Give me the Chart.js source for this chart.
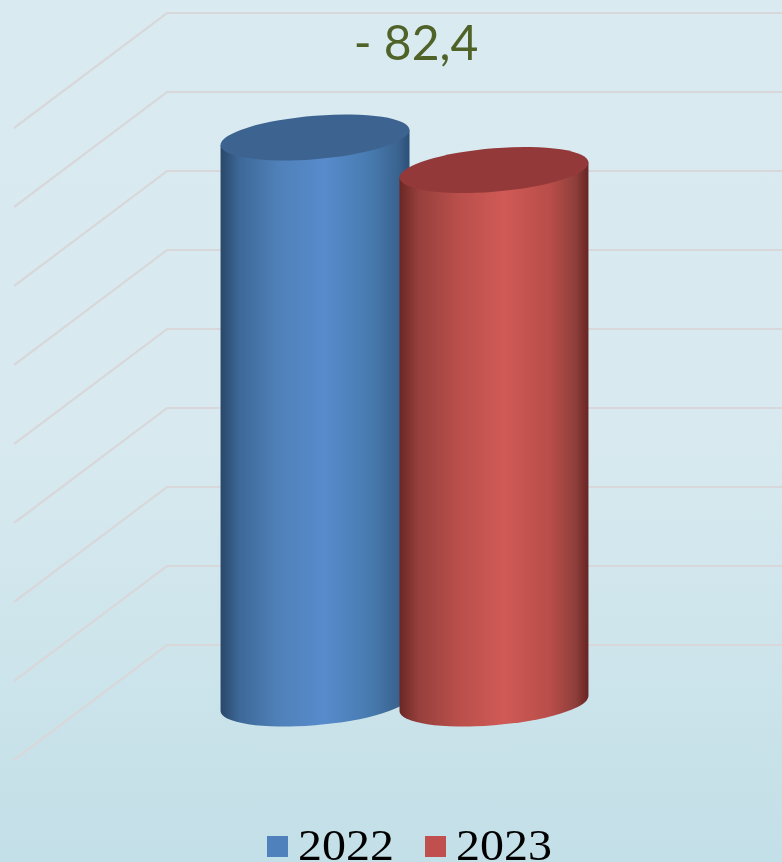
<!DOCTYPE html>
<html>
<head>
<meta charset="utf-8">
<title>2022 - 2023</title>
<script src="https://cdn.jsdelivr.net/npm/chart.js@4/dist/chart.umd.min.js"></script>
<style>
  html, body { margin: 0; padding: 0; }
  body { width: 782px; height: 862px; overflow: hidden; background: linear-gradient(#d9eaf1 0%, #d8eaf0 50%, #c3dfe7 100%); }
  canvas { display: block; }
</style>
</head>
<body>
<canvas id="display_graph" width="782" height="862"></canvas>
<script>
const categories = [""];
const seriesNames = ["2022", "2023"];
const seriesValues = [1433, 1350.6];
const seriesColors = ["#4f81bd", "#c0504d"];
const titleText = "- 82,4";

// side shading and top cap of each cylinder
const sideStops = [
  [[0, "#2a4769"], [0.1, "#3d6898"], [0.3, "#4f80b8"], [0.55, "#578bcc"], [0.8, "#467aae"], [0.94, "#3a638f"], [1, "#2c5078"]],
  [[0, "#6a2725"], [0.1, "#963f3c"], [0.3, "#b84e4a"], [0.55, "#d05a56"], [0.8, "#b84d49"], [0.93, "#8f3f3b"], [1, "#672523"]]
];
const capColors = ["#3d6491", "#93393a"];

// Grid is drawn as a 3D floor/wall corner, bars stand half way in depth
const gridPlugin = {
  id: "grid3d",
  beforeDatasetsDraw(chart) {
    const ctx = chart.ctx;
    const y = chart.scales.y;
    ctx.save();
    ctx.strokeStyle = "#d8d8da";
    ctx.lineWidth = 2.2;
    y.ticks.forEach((tick) => {
      const py = y.getPixelForValue(tick.value);
      ctx.beginPath();
      ctx.moveTo(14, py + 56.5);
      ctx.lineTo(167, py - 58.5);
      ctx.lineTo(chart.chartArea.right, py - 58.5);
      ctx.stroke();
    });
    ctx.restore();
  }
};

const cylinderPlugin = {
  id: "cylinders",
  afterDatasetsDraw(chart) {
    const ctx = chart.ctx;
    chart.data.datasets.forEach((dataset, i) => {
      const bar = chart.getDatasetMeta(i).data[0];
      const rw = bar.width / 2;
      const h = bar.base - bar.y;
      const ry = 21.7;
      const skew = 7.5 / rw;

      ctx.save();
      ctx.transform(1, -skew, 0, 1, bar.x, bar.y);

      const side = ctx.createLinearGradient(-rw, 0, rw, 0);
      sideStops[i].forEach((stop) => side.addColorStop(stop[0], stop[1]));
      ctx.fillStyle = side;
      ctx.beginPath();
      ctx.moveTo(-rw, 0);
      ctx.lineTo(-rw, h);
      ctx.ellipse(0, h, rw, ry, 0, Math.PI, 0, true);
      ctx.lineTo(rw, 0);
      ctx.closePath();
      ctx.fill();

      ctx.fillStyle = capColors[i];
      ctx.beginPath();
      ctx.ellipse(0, 0, rw, ry, 0, 0, Math.PI * 2);
      ctx.fill();
      ctx.restore();
    });
  }
};

// title and legend sit at fixed spots that the built-in boxes can't reach
const labelsPlugin = {
  id: "labels",
  afterDraw(chart) {
    const ctx = chart.ctx;
    ctx.save();
    ctx.fillStyle = "#4f6228";
    ctx.font = "48px Lato";
    ctx.textAlign = "center";
    ctx.textBaseline = "alphabetic";
    ctx.fillText(titleText, 416, 60);

    ctx.textAlign = "left";
    ctx.font = "44px 'Liberation Serif'";
    chart.data.datasets.forEach((dataset, i) => {
      const x = 267 + i * 158;
      ctx.fillStyle = seriesColors[i];
      ctx.fillRect(x, 836, 21, 21);
      ctx.fillStyle = "#000000";
      ctx.save();
      ctx.translate(x + 31, 860);
      ctx.scale(1.09, 1);
      ctx.fillText(dataset.label, 0, 0);
      ctx.restore();
    });
    ctx.restore();
  }
};

const graph = document.getElementById("display_graph");

const scatter = new Chart(graph.getContext("2d"), {
  type: "bar",
  data: {
    labels: categories,
    datasets: seriesNames.map((name, i) => ({
      label: name,
      data: [seriesValues[i]],
      backgroundColor: "transparent",
      borderWidth: 0
    }))
  },
  options: {
    responsive: false,
    animation: false,
    events: [],
    layout: { padding: { left: 27, right: 0, top: 71.5, bottom: 158.5 } },
    datasets: { bar: { categoryPercentage: 0.474, barPercentage: 1.056 } },
    scales: {
      x: { display: false },
      y: { display: false, min: 0, max: 1600, ticks: { stepSize: 200 } }
    },
    plugins: {
      legend: { display: false },
      title: { display: false },
      tooltip: { enabled: false }
    }
  },
  plugins: [gridPlugin, cylinderPlugin, labelsPlugin]
});
</script>
</body>
</html>
